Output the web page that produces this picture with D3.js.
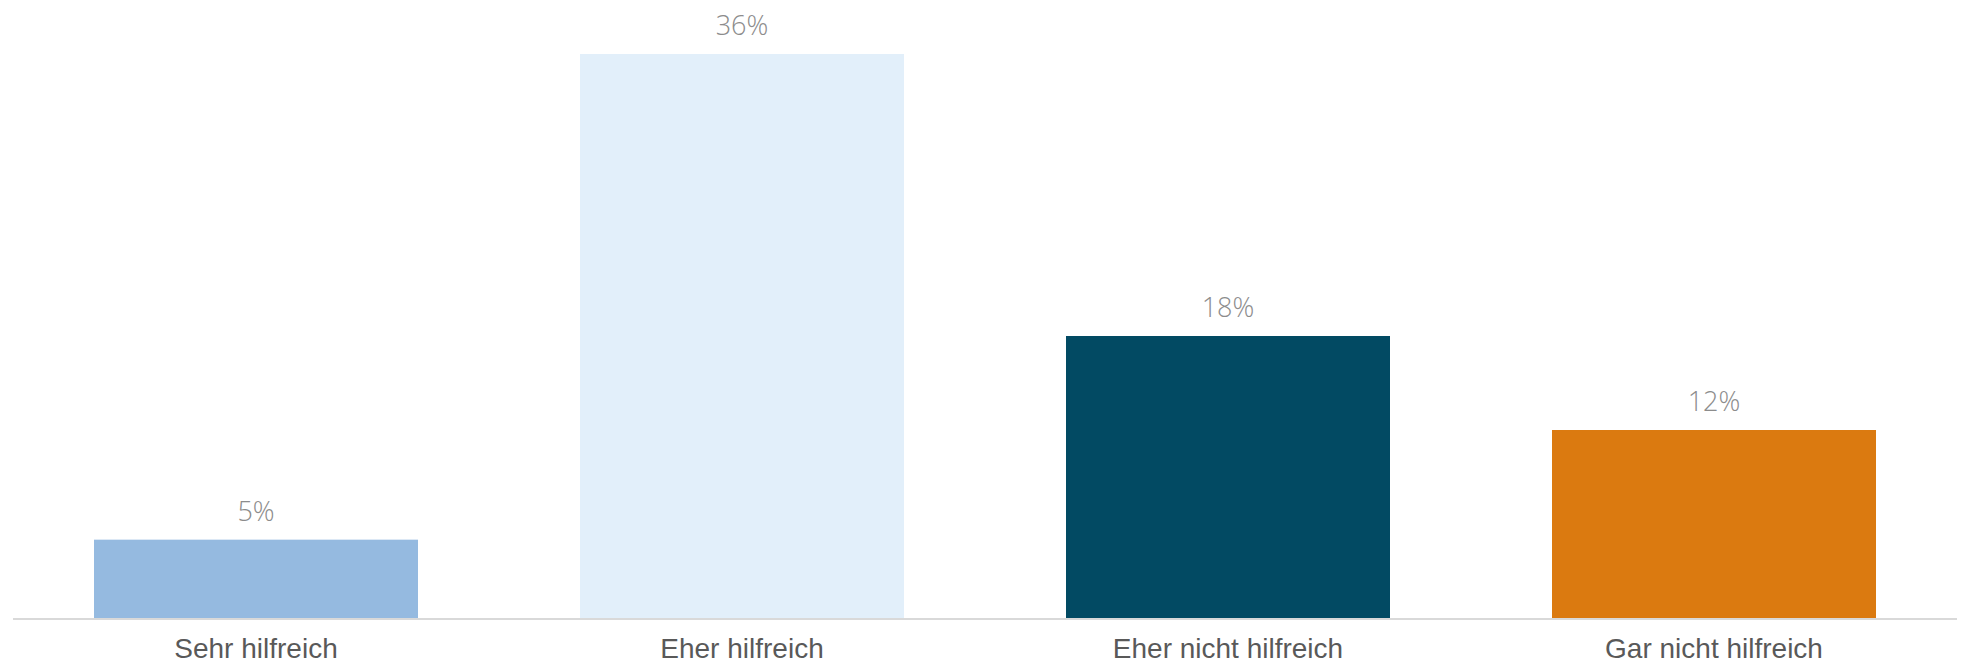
<!DOCTYPE html>
<html lang="de">
<head>
    <meta charset="UTF-8">
    <title>Hilfreich</title>
    <script src="https://d3js.org/d3.v7.min.js"></script>
    <style>
        body {
            margin: 0;
            background: #fff;
        }

        .value-label {
            font-family: "Open Sans", "Segoe UI", sans-serif;
            font-weight: 300;
            font-size: 27px;
            fill: #8c8c8c;
        }

        .cat-label {
            font-family: "Liberation Sans", Arial, sans-serif;
            font-size: 28px;
            fill: #595959;
        }
    </style>
</head>
<body>
<svg id="chart" width="1964" height="665"></svg>
<script>
    // data
    var categories = ["Sehr hilfreich", "Eher hilfreich", "Eher nicht hilfreich", "Gar nicht hilfreich"];
    var values = [5, 36, 18, 12];
    var colours = ["#95bae0", "#e2effa", "#024a63", "#db7a10"];

    var width = 1964,
        height = 665;
    var left = 13, right = 1957, baseline = 618;

    var svg = d3.select("#chart");

    var x = d3.scaleBand()
        .domain(categories)
        .range([left, right])
        .paddingInner(1 / 3)
        .paddingOuter(1 / 6);

    var y = d3.scaleLinear()
        .domain([0, 36])
        .range([baseline, 54]);

    var rows = categories.map(function (c, i) {
        return {cat: c, value: values[i], colour: colours[i]};
    });

    //bars
    svg.append("g")
        .selectAll("rect")
        .data(rows)
        .enter().append("rect")
        .attr("x", function (d) { return x(d.cat); })
        .attr("y", function (d) { return y(d.value); })
        .attr("width", x.bandwidth())
        .attr("height", function (d) { return baseline - y(d.value); })
        .attr("fill", function (d) { return d.colour; });

    //value labels
    svg.append("g")
        .selectAll("text")
        .data(rows)
        .enter().append("text")
        .attr("class", "value-label")
        .attr("x", function (d) { return x(d.cat) + x.bandwidth() / 2; })
        .attr("y", function (d) { return y(d.value) - 19; })
        .attr("text-anchor", "middle")
        .text(function (d) { return d.value + "%"; });

    //x axis
    var axis = svg.append("g")
        .attr("transform", "translate(0," + (baseline + 1) + ")")
        .call(d3.axisBottom(x).tickSize(0).tickPadding(0));

    axis.select(".domain")
        .attr("d", "M" + left + ",0H" + right)
        .attr("stroke", "#d9d9d9")
        .attr("stroke-width", 2);

    // labels sit close to the bottom edge, keep the descent inside the picture
    axis.selectAll(".tick text")
        .attr("class", "cat-label")
        .attr("fill", null)
        .attr("font-size", null)
        .attr("font-family", null)
        .attr("dy", null)
        .attr("y", 39);
</script>
</body>
</html>
